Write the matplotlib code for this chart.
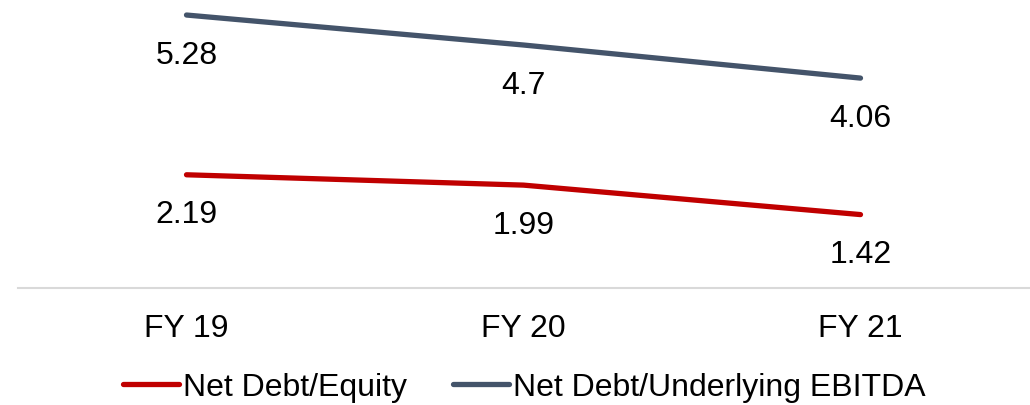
import matplotlib
matplotlib.use("Agg")
import matplotlib.pyplot as plt

years = ["FY 19", "FY 20", "FY 21"]
debt_equity = [2.19, 1.99, 1.42]
debt_ebitda = [5.28, 4.7, 4.06]

RED = "#C00000"
SLATE = "#44546A"
FS = 23

plt.rcParams["font.family"] = ["Liberation Sans", "DejaVu Sans"]

fig = plt.figure(figsize=(10.30, 4.06), dpi=100)
ax = fig.add_axes([18 / 1030, 1 - 289 / 406, 1011 / 1030, 289 / 406])

x = range(len(years))
ax.plot(x, debt_equity, color=RED, lw=3.8, solid_capstyle="round", label="Net Debt/Equity")
ax.plot(x, debt_ebitda, color=SLATE, lw=3.8, solid_capstyle="round", label="Net Debt/Underlying EBITDA")

# data labels below each point
for series in (debt_equity, debt_ebitda):
    for i, v in enumerate(series):
        ax.annotate(str(v), (i, v), xytext=(0, -28.5), textcoords="offset points",
                    ha="center", va="center", fontsize=FS, color="black")

ax.set_xlim(-0.5, 2.5)
ax.set_ylim(0, 5.59)
ax.set_xticks(list(x))
ax.set_xticklabels(years, fontsize=FS)
ax.tick_params(axis="x", length=0, pad=18)
ax.set_yticks([])
for s in ("top", "right", "left"):
    ax.spines[s].set_visible(False)
ax.spines["bottom"].set_color("#D9D9D9")
ax.spines["bottom"].set_linewidth(1.5)

leg = fig.legend(loc="center", ncol=2, frameon=False, fontsize=FS,
                 handlelength=1.75, handletextpad=0.12, columnspacing=1.45,
                 borderaxespad=0, borderpad=0)
leg.set_bbox_to_anchor((524.5 / 1030, 1 - 388 / 406), transform=fig.transFigure)

fig.savefig("out.png", dpi=100)
